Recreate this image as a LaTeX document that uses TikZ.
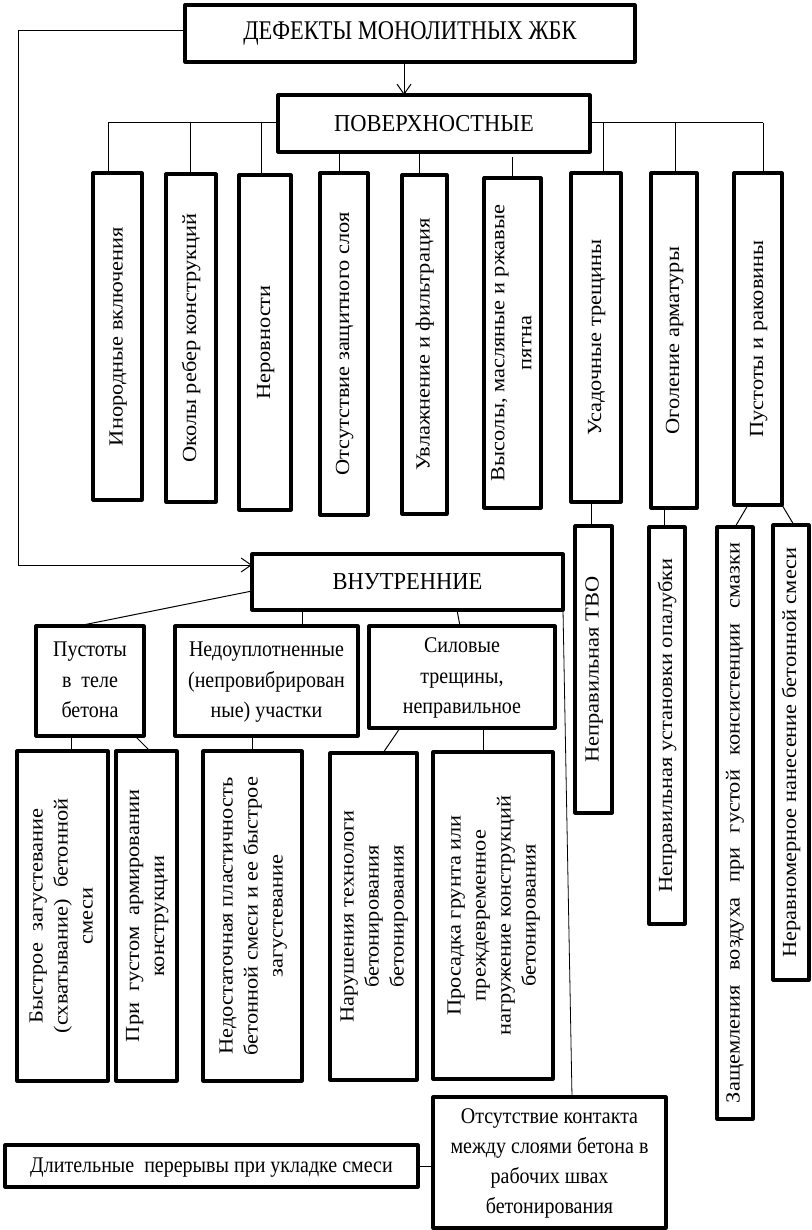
\documentclass[tikz,border=0pt]{standalone}
\usepackage{fontspec}
\usepackage{graphicx}
\setmainfont{Liberation Serif}
\usetikzlibrary{arrows.meta}
\newcommand{\htxt}[2][27]{\scalebox{1}[1.12]{\fontsize{20}{#1}\selectfont\begin{tabular}{@{}c@{}}#2\end{tabular}}}
\newcommand{\vtxt}[2][25]{\rotatebox{90}{\scalebox{1.12}[1]{\fontsize{20}{#1}\selectfont\begin{tabular}{@{}c@{}}#2\end{tabular}}}}
\newcommand{\ctxt}[2][1.08]{\scalebox{1}[#1]{\fontsize{22.5}{27}\selectfont #2}}
\tikzset{
  box/.style={draw, line width=3.2pt, line join=round, inner sep=0pt, outer sep=0pt, fill=white},
  conn/.style={line width=1pt},
  thinconn/.style={line width=0.8pt},
  arr/.style={conn, -{Straight Barb[length=10pt,width=14pt,line width=1pt]}}
}
\begin{document}
\begin{tikzpicture}[x=1pt,y=-1pt]
\fill[white] (0,0) rectangle (811,1230);
\useasboundingbox (0,0) rectangle (811,1230);

% top level
\node[box, minimum width=450pt, minimum height=57pt] (def) at (410,33.5) {\ctxt[1.2]{ДЕФЕКТЫ МОНОЛИТНЫХ ЖБК}};
\node[box, minimum width=312pt, minimum height=57pt] (pov) at (434,123.5) {\ctxt{ПОВЕРХНОСТНЫЕ}};
\node[box, minimum width=311pt, minimum height=56pt] (vnu) at (407.5,582) {\ctxt{ВНУТРЕННИЕ}};

% surface defects
\node[box, minimum width=49pt, minimum height=327pt] (b1) at (117.5,336.5) {\vtxt{Инородные включения}};
\node[box, minimum width=50pt, minimum height=328pt] (b2) at (191,338) {\vtxt{Околы ребер конструкций}};
\node[box, minimum width=52pt, minimum height=335pt] (b3) at (265,342.5) {\vtxt{Неровности}};
\node[box, minimum width=48pt, minimum height=342pt] (b4) at (344,344) {\vtxt{Отсутствие защитного слоя}};
\node[box, minimum width=45pt, minimum height=339pt] (b5) at (424.5,344.5) {\vtxt{Увлажнение и фильтрация}};
\node[box, minimum width=57pt, minimum height=330pt] (b6) at (512.5,343) {\vtxt[27]{Высолы, масляные и ржавые\\пятна}};
\node[box, minimum width=50pt, minimum height=329pt] (b7) at (596,337.5) {\vtxt{Усадочные трещины}};
\node[box, minimum width=46pt, minimum height=335pt] (b8) at (674,340.5) {\vtxt{Оголение арматуры}};
\node[box, minimum width=48pt, minimum height=332pt] (b9) at (758,339) {\vtxt{Пустоты и раковины}};

% right column
\node[box, minimum width=37pt, minimum height=287pt] (r1) at (593.5,669.5) {\vtxt{Неправильная ТВО}};
\node[box, minimum width=36pt, minimum height=397pt] (r2) at (667,725.5) {\vtxt{Неправильная установки опалубки}};
\node[box, minimum width=36pt, minimum height=592pt] (r3) at (735,823) {\rotatebox{90}{\scalebox{1.12}[1]{\fontsize{20}{25}\selectfont\makebox[500pt][s]{Защемления воздуха при густой консистенции смазки}}}};
\node[box, minimum width=36pt, minimum height=455pt] (r4) at (791,752.5) {\vtxt{Неравномерное нанесение бетонной смеси}};

% internal defects
\node[box, minimum width=108pt, minimum height=110pt] (p1) at (90,681) {\htxt[27.2]{Пустоты\\в~~теле\\бетона}};
\node[box, minimum width=183pt, minimum height=110pt] (p2) at (266.5,681) {\htxt[27.2]{Недоуплотненные\\(непровибрирован\\ные) участки}};
\node[box, minimum width=186pt, minimum height=102pt] (p3) at (462,677) {\raisebox{-4pt}{\htxt[27.2]{Силовые\\трещины,\\неправильное}}};

\node[box, minimum width=91pt, minimum height=330pt] (l1) at (62.5,916) {\vtxt{Быстрое~~загустевание\\(схватывание)~~бетонной\\смеси}};
\node[box, minimum width=61pt, minimum height=330pt] (l2) at (146.5,916) {\vtxt{При~~густом~~армировании\\конструкции}};
\node[box, minimum width=99pt, minimum height=330pt] (l3) at (252.5,916) {\vtxt{Недостаточная пластичность\\бетонной смеси и ее быстрое\\загустевание}};
\node[box, minimum width=87pt, minimum height=327pt] (l4) at (373.5,916.5) {\vtxt{Нарушения технологи\\бетонирования\\бетонирования}};
\node[box, minimum width=120pt, minimum height=327pt] (l5) at (493,915.5) {\vtxt{Просадка грунта или\\преждевременное\\нагружение конструкций\\бетонирования}};

\node[box, minimum width=233pt, minimum height=131pt] (o1) at (549.5,1162.5) {\htxt[26.8]{Отсутствие контакта\\между слоями бетона в\\рабочих швах\\бетонирования}};
\node[box, minimum width=413pt, minimum height=42pt] (d1) at (211.5,1166) {\htxt{Длительные~~перерывы при укладке смеси}};

% connectors: top
\coordinate (loopTL) at (18,31);
\coordinate (loopBL) at (18,565);
\draw[arr] (def.west |- loopTL) -- (loopTL) -- (loopBL) -- (loopBL -| vnu.west);
\draw[arr] ([xshift=-6pt]def.south) -- ([xshift=-6pt]def.south |- pov.north);

\coordinate (busL) at (108,123);
\coordinate (busR) at (763,123);
\draw[conn] (busL) -- (pov.west |- busL);
\draw[conn] (pov.east |- busR) -- (busR);
\draw[conn] (busL) -- (busL |- b1.north);
\draw[conn] ([xshift=-1pt]b2.north) -- ([xshift=-1pt]b2.north |- busL);
\draw[conn] ([xshift=-4pt]b3.north) -- ([xshift=-4pt]b3.north |- busL);
\draw[conn] ([xshift=-5pt]b4.north) -- ([xshift=-5pt]b4.north |- pov.south);
\draw[conn] ([xshift=-5.5pt]b5.north) -- ([xshift=-5.5pt]b5.north |- pov.south);
\draw[conn] (b6.north) -- ([yshift=-5pt]b6.north |- pov.south);
\draw[conn] ([xshift=7pt]b7.north) -- ([xshift=7pt]b7.north |- busR);
\draw[conn] ([xshift=1pt]b8.north) -- ([xshift=1pt]b8.north |- busR);
\draw[conn] (busR) -- (busR |- b9.north);

% right column connectors
\draw[conn] ([xshift=-5pt]b7.south) -- ([xshift=-5pt]b7.south |- r1.north);
\draw[conn] ([xshift=-10pt]b8.south) -- ([xshift=-10pt]b8.south |- r2.north);
\draw[conn] ([xshift=-10pt]b9.south) -- (r3.north);
\draw[conn] (b9.south east) -- ([xshift=3pt]r4.north);

% internal connectors
\draw[conn] ([yshift=-9pt]vnu.west) -- ([xshift=-12pt]p1.north);
\draw[conn] ([xshift=35.5pt]p2.north) -- ([xshift=35.5pt]p2.north |- vnu.south);
\draw[conn] ([xshift=49.5pt]vnu.south) -- ([xshift=-2pt]p3.north);

\draw[conn] ([xshift=-19pt]p1.south) -- ([xshift=-19pt]p1.south |- l1.north);
\draw[conn] ([xshift=45pt]p1.south) -- ([xshift=3.5pt]l2.north);
\draw[conn] ([xshift=-14.5pt]p2.south) -- ([xshift=-14.5pt]p2.south |- l3.north);
\draw[conn] ([xshift=-62pt]p3.south) -- ([xshift=9.5pt]l4.north);
\draw[conn] ([xshift=21pt]p3.south) -- ([xshift=21pt]p3.south |- l5.north);

\draw[thinconn] (vnu.south east) -- ([xshift=22.5pt]o1.north);
\draw[conn] (d1.east) -- (d1.east -| o1.west);
\end{tikzpicture}
\end{document}
